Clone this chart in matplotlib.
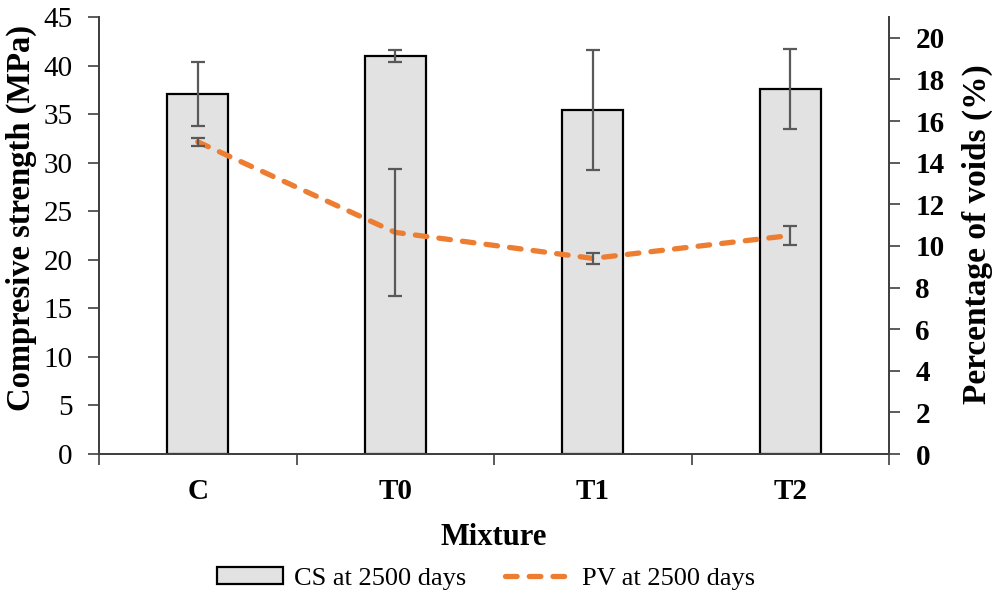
import matplotlib
matplotlib.use("Agg")
import matplotlib.pyplot as plt
import numpy as np

# data
mixtures = ["C", "T0", "T1", "T2"]
cs_mean = [37.1, 41.0, 35.4, 37.6]      # compressive strength, MPa
cs_err = [3.3, 0.6, 6.2, 4.15]
pv_mean = [15.0, 10.65, 9.4, 10.5]     # percentage of voids, %
pv_err = [0.2, 3.05, 0.26, 0.45]

plt.rcParams['font.family'] = ['Liberation Serif', 'DejaVu Serif']

fig = plt.figure(figsize=(9.92, 5.93), dpi=100)
ax = fig.add_axes([0.0998, 0.2344, 0.7964, 0.7369])
ax2 = ax.twinx()

x = np.arange(len(mixtures))
axis_col = "#404040"
err_col = "#595959"

ax.bar(x, cs_mean, width=0.31, color="#E2E2E2", edgecolor="black", linewidth=1.6,
       zorder=2, label="CS at 2500 days")
ax.errorbar(x, cs_mean, yerr=cs_err, fmt="none", ecolor=err_col, elinewidth=1.6,
            capsize=5, capthick=1.6, zorder=3)

ax2.plot(x, pv_mean, color="#ED7D31", linewidth=3.8, linestyle=(0, (2.2, 2.3)),
         dash_capstyle="round", zorder=3, label="PV at 2500 days")
ax2.errorbar(x, pv_mean, yerr=pv_err, fmt="none", ecolor=err_col, elinewidth=1.6,
             capsize=5, capthick=1.6, zorder=4)

ax.set_xlim(-0.5, 3.5)
ax.set_ylim(0, 45)
ax2.set_ylim(0, 21)
ax.set_yticks(np.arange(0, 46, 5))
ax2.set_yticks(np.arange(0, 21, 2))

ax.set_xticks(np.arange(-0.5, 4, 1))
ax.set_xticklabels([])
ax.set_xticks(x, minor=True)
ax.set_xticklabels(mixtures, minor=True, fontweight="bold", fontsize=21)
ax.tick_params(axis="x", which="major", direction="out", length=8, width=1.2, color=axis_col)
ax.tick_params(axis="x", which="minor", length=0, pad=17)

ax.tick_params(axis="y", direction="out", length=8, width=1.2, color=axis_col,
               labelsize=21, pad=11)
ax2.tick_params(axis="y", direction="out", length=8, width=1.2, color=axis_col,
                labelsize=21, pad=11)
for lbl in ax2.get_yticklabels():
    lbl.set_fontweight("bold")

for a in (ax, ax2):
    a.spines["top"].set_visible(False)
    for s in ("left", "right", "bottom"):
        a.spines[s].set_color(axis_col)
        a.spines[s].set_linewidth(1.3)

ax.set_xlabel("Mixture", fontweight="bold", fontsize=22, labelpad=13)
ax.set_ylabel("Compresive strength (MPa)", fontweight="bold", fontsize=23.5)
ax.yaxis.set_label_coords(-0.079, 0.54)
ax2.set_ylabel("Percentage of voids (%)", fontweight="bold", fontsize=24)
ax2.yaxis.set_label_coords(1.092, 0.503)

ax.set_zorder(ax2.get_zorder() - 1)
ax.patch.set_visible(True)
ax2.patch.set_visible(False)

h1, l1 = ax.get_legend_handles_labels()
h2, l2 = ax2.get_legend_handles_labels()
fig.legend(h1 + h2, l1 + l2, loc="lower center", bbox_to_anchor=(0.49, -0.035),
           ncol=2, frameon=False, fontsize=19, handlelength=2.5, handleheight=0.6,
           columnspacing=1.5, handletextpad=0.4)

fig.savefig("out.png", dpi=100)
